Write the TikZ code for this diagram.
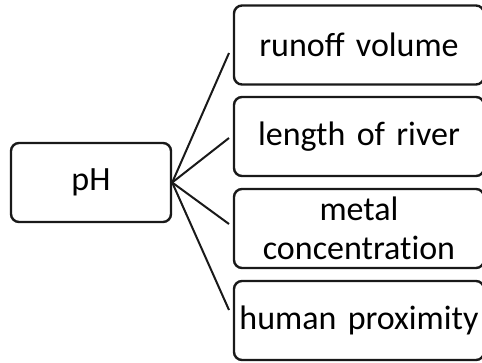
\documentclass[tikz,border=0pt]{standalone}
\usepackage{fontspec}
\setmainfont{Carlito}
\begin{document}
\begin{tikzpicture}[x=1pt,y=-1pt,
  box/.style={draw=black!90, line width=2.4pt, rounded corners=8pt, rectangle,
    inner sep=0pt, align=center, font=\fontsize{34}{39}\selectfont},
  leftbox/.style={box, minimum width=160pt, minimum height=79pt},
  rightbox/.style={box, minimum width=250pt, minimum height=79pt, text width=246pt},
  conn/.style={draw=black!90, line width=2pt}]
\useasboundingbox (0,0) rectangle (482,362);
\clip (0,0) rectangle (482,362);
\node[leftbox] (ph) at (91,182.5) {pH};
\node[rightbox] (r1) at (359,45) {runoff volume};
\node[rightbox] (r2) at (359,136.5) {length of river};
\node[rightbox] (r3) at (359,228.5) {metal\\concentrat\kern0pt ion};
\node[rightbox] (r4) at (359,320.5) {human proximity};
\coordinate (e1) at (229,53);
\coordinate (e2) at (229,138);
\coordinate (e3) at (229,224);
\coordinate (e4) at (229,310);
\draw[conn] (ph.east) -- (e1);
\draw[conn] (ph.east) -- (e2);
\draw[conn] (ph.east) -- (e3);
\draw[conn] (ph.east) -- (e4);
\end{tikzpicture}
\end{document}
